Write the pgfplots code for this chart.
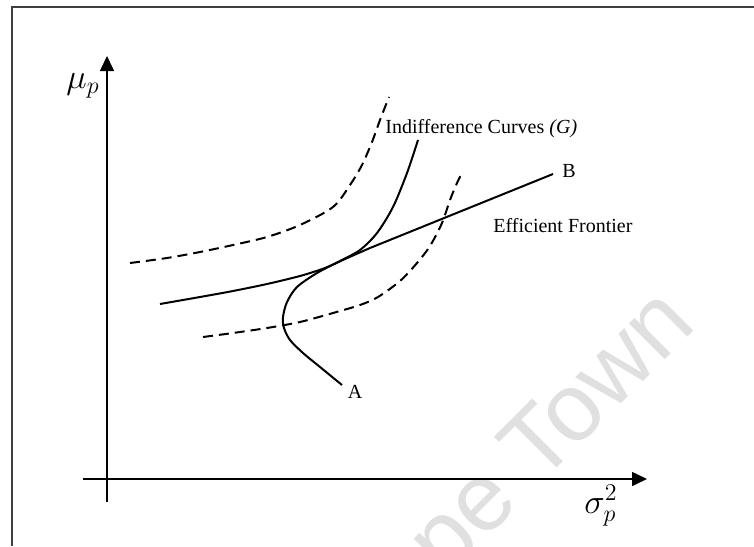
\documentclass[border=0pt]{standalone}
\usepackage{pgfplots}
\pgfplotsset{compat=1.18}
\usepackage{fontspec}
\setmainfont{Liberation Serif}
\newfontfamily\wmfont{Liberation Sans}
\usetikzlibrary{arrows.meta}
\begin{document}
\begin{tikzpicture}
\path[use as bounding box] (0,0) rectangle (377pt,273pt);
\clip (0,0) rectangle (377pt,273pt);
% watermark
\node[anchor=base west, rotate=45, text=black!12, inner sep=0pt] at (222.5pt,-17pt) {\wmfont\fontsize{48pt}{54pt}\selectfont pe Town};
\begin{axis}[
  at={(0,0)}, anchor=south west,
  scale only axis, width=377pt, height=273pt,
  xmin=0, xmax=754, ymin=0, ymax=546, y dir=reverse,
  hide axis, clip=false,
]
% frame
\draw[line width=0.8pt, black!75] (axis cs:12,546) -- (axis cs:12,7) -- (axis cs:754,7);
% axes
\draw[line width=0.8pt, black, -{Triangle[length=7.5pt,width=7pt]}] (axis cs:83,479) -- (axis cs:647,479);
\draw[line width=0.8pt, black, -{Triangle[length=7.5pt,width=7pt]}] (axis cs:107,502) -- (axis cs:107,56);
% upper indifference curve (dashed)
\addplot[black, line width=1pt, dash pattern=on 5pt off 3pt, smooth] coordinates {
 (130,263) (167,258) (200,252) (233,245) (267,237) (300,225) (333,207) (350,185) (362,165) (372,142) (380,120) (389,97)
};
% lower indifference curve (dashed)
\addplot[black, line width=1pt, dash pattern=on 5pt off 3pt, smooth] coordinates {
 (203,337) (233,333) (267,328) (300,322) (333,313) (360,305) (378,297) (400,281) (417,263) (430,246) (442,223) (450,200) (457,183) (463,171)
};
% tangent indifference curve
\addplot[black, line width=1pt, smooth] coordinates {
 (160,304) (200,297) (233,291) (267,284) (300,276) (325,268) (345,259) (370,248)
};
\addplot[black, line width=1pt] coordinates {
 (370,248) (553,174)
};
% efficient frontier from A
\addplot[black, line width=1pt, smooth] coordinates {
 (342,385) (320,367) (303,353) (290,340) (284,328) (283,317) (287,302) (297,287) (317,273) (340,261) (360,250) (377,233) (393,207) (407,173) (418,140)
};
% labels
\node[anchor=base west, inner sep=0pt, font=\fontsize{10}{12}\selectfont] at (axis cs:385,133) {Indifference Curves \textit{(G)}};
\node[anchor=base west, inner sep=0pt, font=\fontsize{10}{12}\selectfont] at (axis cs:493,232) {Efficient Frontier};
\node[anchor=base, inner sep=0pt, font=\fontsize{10}{12}\selectfont] at (axis cs:569,177) {B};
\node[anchor=base, inner sep=0pt, font=\fontsize{10}{12}\selectfont] at (axis cs:355,398) {A};
\node[anchor=base west, inner sep=0pt, font=\fontsize{17}{20}\selectfont] at (axis cs:66,88) {$\mu_p$};
\node[anchor=base west, inner sep=0pt, font=\fontsize{17}{20}\selectfont] at (axis cs:584,513) {$\sigma_p^2$};
\end{axis}
\end{tikzpicture}
\end{document}
